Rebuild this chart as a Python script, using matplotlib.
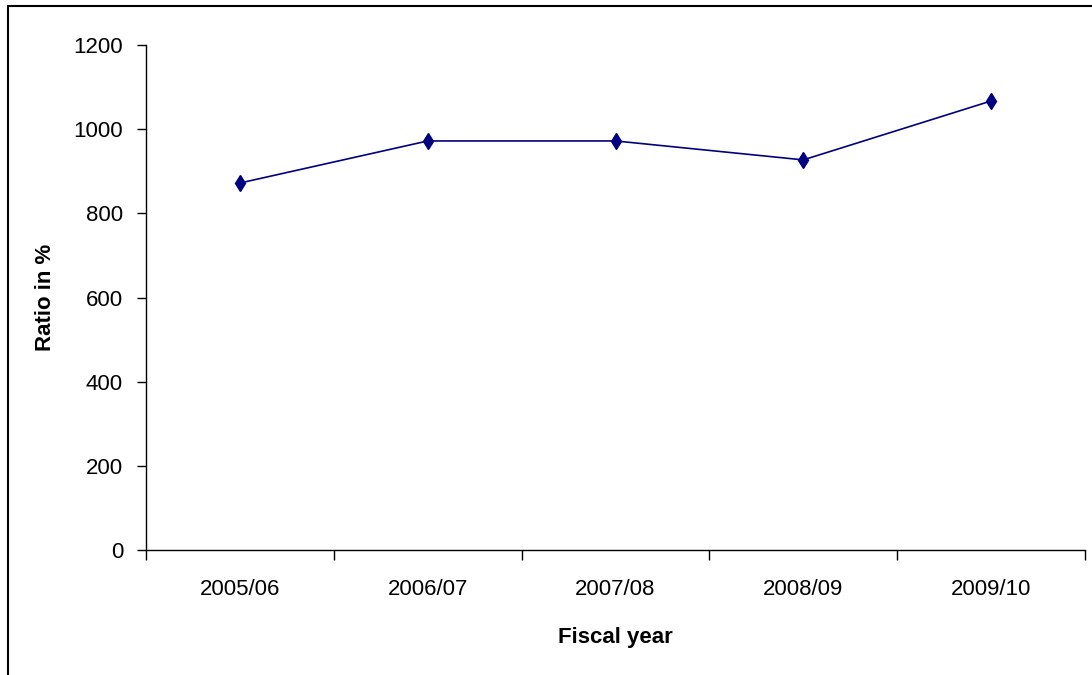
#!/usr/bin/env python3
import matplotlib
matplotlib.use("Agg")
import matplotlib.pyplot as plt
from matplotlib.patches import Rectangle

# Data
years = ["2005/06", "2006/07", "2007/08", "2008/09", "2009/10"]
ratio = [872, 972, 972, 927, 1067]

plt.rcParams['font.family'] = ['Liberation Sans', 'DejaVu Sans']

fig = plt.figure(figsize=(10.92, 6.75), dpi=100)
ax = fig.add_axes([146 / 1092, 125 / 675, 939 / 1092, 505 / 675])

x = list(range(len(years)))
ax.plot(x, ratio, color='#000080', lw=1.2, marker='d', markersize=8,
        markerfacecolor='#000080', markeredgecolor='#000080')

# Axes limits and ticks (category boundaries as tick marks)
ax.set_xlim(-0.5, len(years) - 0.5)
ax.set_ylim(0, 1200)
ax.set_yticks(range(0, 1201, 200))
ax.set_xticks([i - 0.5 for i in range(len(years) + 1)])
ax.set_xticklabels([])
ax.set_xticks(x, minor=True)
ax.set_xticklabels(years, minor=True, fontsize=16)
ax.tick_params(axis='x', which='major', direction='out', length=7, width=1)
ax.tick_params(axis='x', which='minor', length=0, pad=21)
ax.tick_params(axis='y', direction='out', length=6.5, width=1, labelsize=16, pad=10)

for side in ['top', 'right']:
    ax.spines[side].set_visible(False)
for side in ['left', 'bottom']:
    ax.spines[side].set_linewidth(1)

ax.set_ylabel("Ratio in %", fontsize=16, fontweight='bold', va='center')
ax.yaxis.set_label_coords(-0.107, 0.5)
ax.set_xlabel("Fiscal year", fontsize=16, fontweight='bold', va='center')
ax.xaxis.set_label_coords(0.5, -0.174)

# Outer chart border
fig.patches.append(Rectangle((8 / 1092, -0.1), 1.2, 1.1 - 6 / 675,
                             transform=fig.transFigure, fill=False,
                             edgecolor='black', lw=1.5))

fig.savefig("out.png", dpi=100)
